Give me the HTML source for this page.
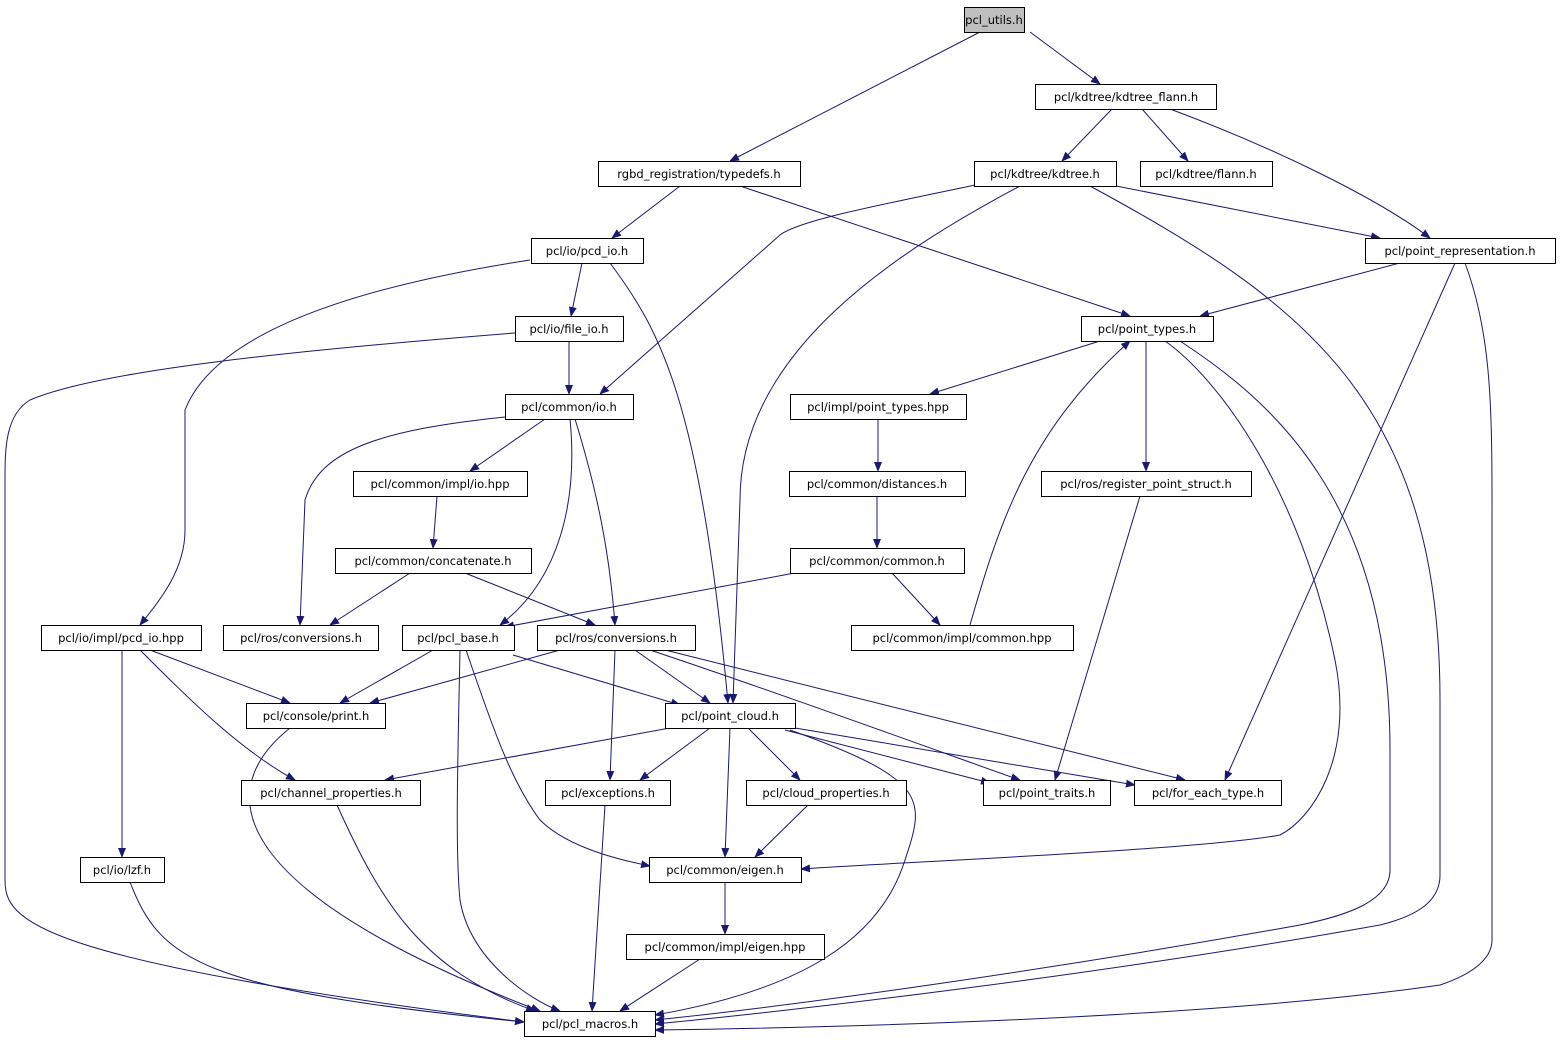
<!DOCTYPE html>
<html><head><meta charset="utf-8"><style>
html,body{margin:0;padding:0;background:#fff;}
svg{display:block}
text{font-family:"DejaVu Sans","Liberation Sans",sans-serif;font-size:11.5px;fill:#000}
.e{fill:none;stroke:#191970;stroke-width:1}
rect{fill:#fff;stroke:#000;stroke-width:1}
</style></head><body>
<svg width="1561" height="1045" viewBox="0 0 1561 1045" xmlns="http://www.w3.org/2000/svg">
<defs><marker id="a" markerWidth="10" markerHeight="8" refX="9" refY="4" orient="auto" markerUnits="userSpaceOnUse"><path d="M0,0 L10,4 L0,8 z" fill="#191970"/></marker></defs>
<g class="e" marker-end="url(#a)">
<path d="M1030,32 L1100,84"/>
<path d="M980,32 L730,161"/>
<path d="M1112,109 L1062,161"/>
<path d="M1142,109 L1188,161"/>
<path d="M1170,109 C1280,150 1380,200 1430,238"/>
<path d="M680,186 L612,238"/>
<path d="M740,186 L1130,316"/>
<path d="M980,184 C880,205 800,220 780,235 L600,394"/>
<path d="M1020,186 C900,250 740,350 740,500 L733,703"/>
<path d="M1116,186 L1380,238"/>
<path d="M1090,186 C1300,300 1440,400 1440,700 L1440,875 C1440,900 1420,915 1380,925 C1100,975 800,1010 655,1024"/>
<path d="M1400,263 L1200,316"/>
<path d="M1455,263 L1225,780"/>
<path d="M1465,263 C1490,330 1492,400 1492,500 L1492,940 C1492,960 1470,975 1440,985 C1200,1020 800,1028 655,1030"/>
<path d="M582,263 L571,316"/>
<path d="M610,263 C660,330 700,400 728,703"/>
<path d="M530,260 C400,280 220,320 185,410 L185,530 C185,570 160,600 140,625"/>
<path d="M569,341 L569,394"/>
<path d="M515,333 C300,350 100,370 30,400 C5,415 5,450 5,480 L5,880 C5,920 30,960 524,1022"/>
<path d="M1100,341 L930,394"/>
<path d="M1146,341 L1146,471"/>
<path d="M1165,341 C1220,380 1300,490 1335,660 C1355,760 1310,820 1280,835 C1200,850 900,862 801,869"/>
<path d="M1180,341 C1270,400 1390,500 1390,750 L1390,870 C1390,900 1350,915 1300,925 C1050,970 800,1005 655,1020"/>
<path d="M545,419 L470,471"/>
<path d="M505,417 C380,430 320,450 305,500 L300,625"/>
<path d="M570,419 C578,500 560,580 500,625"/>
<path d="M575,419 C600,500 610,560 615,625"/>
<path d="M878,419 L878,471"/>
<path d="M437,496 L433,548"/>
<path d="M877,496 L877,548"/>
<path d="M1140,496 L1055,780"/>
<path d="M410,573 L330,625"/>
<path d="M465,573 L595,625"/>
<path d="M800,572 L505,627"/>
<path d="M892,573 L940,625"/>
<path d="M970,625 C1000,520 1030,430 1130,341"/>
<path d="M150,650 L290,703"/>
<path d="M140,650 C190,700 240,750 295,780"/>
<path d="M122,650 L122,857"/>
<path d="M433,650 L340,703"/>
<path d="M513,655 L680,705"/>
<path d="M466,650 C490,720 510,780 540,820 C570,850 630,862 650,866"/>
<path d="M460,650 C458,750 455,850 460,900 C470,960 530,1000 560,1011"/>
<path d="M560,650 L370,703"/>
<path d="M635,650 L710,703"/>
<path d="M615,650 L610,780"/>
<path d="M650,650 C800,700 990,770 1020,780"/>
<path d="M665,650 L1185,780"/>
<path d="M290,728 C200,800 250,900 540,1011"/>
<path d="M670,728 L385,780"/>
<path d="M710,728 L640,780"/>
<path d="M730,728 L725,857"/>
<path d="M748,728 L800,780"/>
<path d="M785,730 L990,783"/>
<path d="M795,728 L1135,785"/>
<path d="M790,730 C930,780 925,800 905,860 C880,940 800,990 655,1015"/>
<path d="M337,805 C380,900 420,970 535,1011"/>
<path d="M605,805 L592,1011"/>
<path d="M808,805 L755,857"/>
<path d="M130,882 C160,960 200,990 524,1022"/>
<path d="M725,882 L725,934"/>
<path d="M700,959 L620,1011"/>
</g>
<g>
<rect x="964.5" y="7.5" width="60" height="25" style="fill:#bfbfbf"/><text x="994" y="24" text-anchor="middle">pcl_utils.h</text>
<rect x="1035.5" y="84.5" width="181" height="25"/><text x="1126" y="101" text-anchor="middle">pcl/kdtree/kdtree_flann.h</text>
<rect x="598.5" y="161.5" width="202" height="25"/><text x="699" y="178" text-anchor="middle">rgbd_registration/typedefs.h</text>
<rect x="974.5" y="161.5" width="142" height="25"/><text x="1045" y="178" text-anchor="middle">pcl/kdtree/kdtree.h</text>
<rect x="1140.5" y="161.5" width="132" height="25"/><text x="1206" y="178" text-anchor="middle">pcl/kdtree/flann.h</text>
<rect x="531.5" y="238.5" width="112" height="25"/><text x="587" y="255" text-anchor="middle">pcl/io/pcd_io.h</text>
<rect x="1365.5" y="238.5" width="190" height="25"/><text x="1460" y="255" text-anchor="middle">pcl/point_representation.h</text>
<rect x="515.5" y="316.5" width="108" height="25"/><text x="569" y="333" text-anchor="middle">pcl/io/file_io.h</text>
<rect x="1081.5" y="316.5" width="132" height="25"/><text x="1147" y="333" text-anchor="middle">pcl/point_types.h</text>
<rect x="505.5" y="394.5" width="128" height="25"/><text x="569" y="411" text-anchor="middle">pcl/common/io.h</text>
<rect x="790.5" y="394.5" width="176" height="25"/><text x="878" y="411" text-anchor="middle">pcl/impl/point_types.hpp</text>
<rect x="353.5" y="471.5" width="174" height="25"/><text x="440" y="488" text-anchor="middle">pcl/common/impl/io.hpp</text>
<rect x="789.5" y="471.5" width="176" height="25"/><text x="877" y="488" text-anchor="middle">pcl/common/distances.h</text>
<rect x="1041.5" y="471.5" width="210" height="25"/><text x="1146" y="488" text-anchor="middle">pcl/ros/register_point_struct.h</text>
<rect x="335.5" y="548.5" width="196" height="25"/><text x="433" y="565" text-anchor="middle">pcl/common/concatenate.h</text>
<rect x="790.5" y="548.5" width="174" height="25"/><text x="877" y="565" text-anchor="middle">pcl/common/common.h</text>
<rect x="41.5" y="625.5" width="160" height="25"/><text x="121" y="642" text-anchor="middle">pcl/io/impl/pcd_io.hpp</text>
<rect x="223.5" y="625.5" width="155" height="25"/><text x="301" y="642" text-anchor="middle">pcl/ros/conversions.h</text>
<rect x="402.5" y="625.5" width="112" height="25"/><text x="458" y="642" text-anchor="middle">pcl/pcl_base.h</text>
<rect x="537.5" y="625.5" width="158" height="25"/><text x="616" y="642" text-anchor="middle">pcl/ros/conversions.h</text>
<rect x="851.5" y="625.5" width="222" height="25"/><text x="962" y="642" text-anchor="middle">pcl/common/impl/common.hpp</text>
<rect x="246.5" y="703.5" width="139" height="25"/><text x="316" y="720" text-anchor="middle">pcl/console/print.h</text>
<rect x="665.5" y="703.5" width="130" height="25"/><text x="730" y="720" text-anchor="middle">pcl/point_cloud.h</text>
<rect x="241.5" y="780.5" width="179" height="25"/><text x="331" y="797" text-anchor="middle">pcl/channel_properties.h</text>
<rect x="545.5" y="780.5" width="125" height="25"/><text x="608" y="797" text-anchor="middle">pcl/exceptions.h</text>
<rect x="746.5" y="780.5" width="160" height="25"/><text x="826" y="797" text-anchor="middle">pcl/cloud_properties.h</text>
<rect x="983.5" y="780.5" width="127" height="25"/><text x="1047" y="797" text-anchor="middle">pcl/point_traits.h</text>
<rect x="1134.5" y="780.5" width="147" height="25"/><text x="1208" y="797" text-anchor="middle">pcl/for_each_type.h</text>
<rect x="80.5" y="857.5" width="84" height="25"/><text x="122" y="874" text-anchor="middle">pcl/io/lzf.h</text>
<rect x="649.5" y="857.5" width="152" height="25"/><text x="725" y="874" text-anchor="middle">pcl/common/eigen.h</text>
<rect x="626.5" y="934.5" width="198" height="25"/><text x="725" y="951" text-anchor="middle">pcl/common/impl/eigen.hpp</text>
<rect x="524.5" y="1011.5" width="131" height="25"/><text x="590" y="1028" text-anchor="middle">pcl/pcl_macros.h</text>
</g>
</svg>
</body></html>
